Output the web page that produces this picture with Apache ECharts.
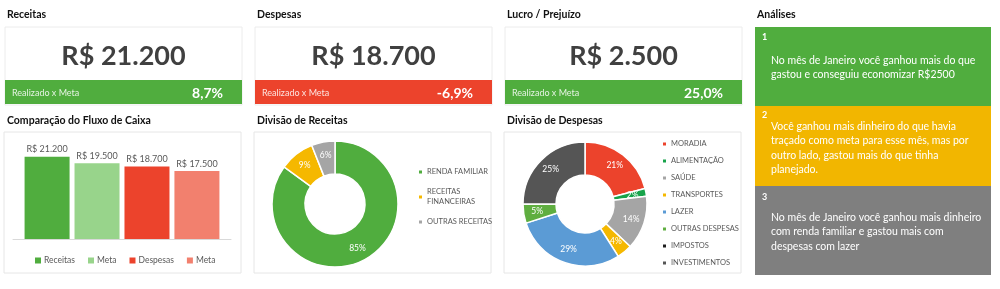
<!DOCTYPE html>
<html><head><meta charset="utf-8">
<script src="https://cdn.jsdelivr.net/npm/echarts@6/dist/echarts.min.js"></script>
<style>html,body{margin:0;padding:0;background:#fff}#c{width:1000px;height:289px}</style>
</head><body><div id="c"></div>
<script>
// ---- data ----
const kpiTitles = ['Receitas', 'Despesas', 'Lucro / Prejuízo'];
const kpiValues = ['R$ 21.200', 'R$ 18.700', 'R$ 2.500'];
const kpiLabel = 'Realizado x Meta';
const kpiPct = ['8,7%', '-6,9%', '25,0%'];
const kpiColors = ['#50ad3e', '#ec432c', '#50ad3e'];

const fluxoTitle = 'Comparação do Fluxo de Caixa';
const fluxoSeries = ['Receitas', 'Meta', 'Despesas', 'Meta'];
const fluxoValues = [21200, 19500, 18700, 17500];
const fluxoColors = ['#50ad3e', '#98d48b', '#ec432c', '#f2806e'];

const receitasTitle = 'Divisão de Receitas';
const receitasCats = ['RENDA FAMILIAR', 'RECEITAS FINANCEIRAS', 'OUTRAS RECEITAS'];
const receitasPct = [85, 9, 6];
const receitasColors = ['#50ad3e', '#f5b800', '#a5a5a5'];

const despesasTitle = 'Divisão de Despesas';
const despesasCats = ['MORADIA', 'ALIMENTAÇÃO', 'SAÚDE', 'TRANSPORTES', 'LAZER', 'OUTRAS DESPESAS', 'IMPOSTOS', 'INVESTIMENTOS'];
const despesasPct = [21, 2, 14, 4, 29, 5, 0, 25];
const despesasColors = ['#ec432c', '#17a34a', '#a5a5a5', '#f5b800', '#5b9bd5', '#5fae40', '#1e1e1e', '#555555'];

const analisesTitle = 'Análises';
const analisesNums = ['1', '2', '3'];
const analisesTexts = [
  'No mês de Janeiro você ganhou mais do que\ngastou e conseguiu economizar R$2500',
  'Você ganhou mais dinheiro do que havia\ntraçado como meta para esse mês, mas por\noutro lado, gastou mais do que tinha\nplanejado.',
  'No mês de Janeiro você ganhou mais dinheiro\ncom renda familiar e gastou mais com\ndespesas com lazer'
];
const analisesColors = ['#50ad3e', '#f2b600', '#7f7f7f'];

// ---- layout ----
const FONT = 'Lato, "Open Sans", "DejaVu Sans", sans-serif';
const colX = [4, 254, 504];
const colW = 237;
const g = [];
const titleStyle = (x, y, t) => ({ type: 'text', x: x, y: y, style: { text: t, fill: '#111', font: 'bold 10.5px ' + FONT, textVerticalAlign: 'middle' } });

for (let i = 0; i < 3; i++) {
  const x = colX[i];
  g.push(titleStyle(x + 3, 15, kpiTitles[i]));
  g.push({ type: 'rect', shape: { x: x + 1, y: 27, width: colW, height: 78 }, style: { fill: '#fff', stroke: '#ececec', lineWidth: 1 } });
  g.push({ type: 'text', x: x + 1 + colW / 2, y: 56, style: { text: kpiValues[i], fill: '#404040', font: 'bold 27px ' + FONT, textAlign: 'center', textVerticalAlign: 'middle' } });
  g.push({ type: 'rect', shape: { x: x + 1, y: 80, width: colW, height: 24 }, style: { fill: kpiColors[i] } });
  g.push({ type: 'text', x: x + 8, y: 93, style: { text: kpiLabel, fill: 'rgba(255,255,255,0.85)', font: '9px ' + FONT, textVerticalAlign: 'middle' } });
  g.push({ type: 'text', x: x + 219, y: 93, style: { text: kpiPct[i], fill: '#fff', font: 'bold 14px ' + FONT, textAlign: 'right', textVerticalAlign: 'middle' } });
  g.push({ type: 'rect', z: -1, shape: { x: x, y: 132, width: colW, height: 141 }, style: { fill: '#fff', stroke: '#e6e6e6', lineWidth: 1 } });
}
g.push(titleStyle(7, 121, fluxoTitle));
g.push(titleStyle(257, 121, receitasTitle));
g.push(titleStyle(507, 121, despesasTitle));

// Analyses column
g.push(titleStyle(757, 15, analisesTitle));
const boxY = [27, 106, 186];
const boxH = [79, 80, 89];
const numY = [37, 115, 197];
const txtY = [60, 126, 217];
for (let i = 0; i < 3; i++) {
  g.push({ type: 'rect', shape: { x: 755, y: boxY[i], width: 236, height: boxH[i] }, style: { fill: analisesColors[i] } });
  g.push({ type: 'text', x: 762, y: numY[i], style: { text: analisesNums[i], fill: '#fff', font: 'bold 9px ' + FONT, textVerticalAlign: 'middle' } });
  g.push({ type: 'text', x: 771, y: txtY[i] - 7, style: { text: analisesTexts[i], fill: '#fff', font: '10.5px ' + FONT, lineHeight: 14.6, textVerticalAlign: 'top' } });
}

const fmtMoney = v => 'R$ ' + String(v).replace(/\B(?=(\d{3})+(?!\d))/g, '.');
const seriesNames = fluxoSeries.map((n, i) => n + '#' + i);

const barSeries = fluxoValues.map((v, i) => ({
  type: 'bar', name: seriesNames[i], data: [v], barWidth: 45, barGap: '11%',
  itemStyle: { color: fluxoColors[i] },
  label: { show: true, position: 'top', distance: 3, formatter: p => fmtMoney(p.value), color: '#595959', fontSize: 9, fontFamily: FONT }
}));

const legText = { fontSize: 7.5, color: '#595959', fontFamily: FONT, lineHeight: 10, padding: [0, 0, 0, -1] };

const chart = echarts.init(document.getElementById('c'), null, { renderer: 'canvas' });
chart.setOption({
  backgroundColor: '#fff',
  animation: false,
  textStyle: { fontFamily: FONT },
  graphic: g,
  grid: { left: 13, width: 218, top: 142, height: 97 },
  xAxis: { type: 'category', data: ['Jan'], axisLabel: { show: false }, axisTick: { show: false }, axisLine: { lineStyle: { color: '#d9d9d9' } } },
  yAxis: { type: 'value', min: 0, max: 25000, show: false, splitLine: { show: false } },
  legend: [
    { data: seriesNames, left: 30, top: 251, itemWidth: 6, itemHeight: 6, itemGap: 13, icon: 'rect',
      formatter: n => n.split('#')[0], textStyle: { fontSize: 8.5, color: '#595959', fontFamily: FONT, padding: [0, 0, 0, -2] } },
    { data: receitasCats, orient: 'vertical', left: 412, top: 162, itemWidth: 5, itemHeight: 5, itemGap: 10, icon: 'rect',
      formatter: n => n === 'RECEITAS FINANCEIRAS' ? 'RECEITAS\nFINANCEIRAS' : n,
      textStyle: legText },
    { data: despesasCats, orient: 'vertical', left: 656, top: 134, itemWidth: 5, itemHeight: 5, itemGap: 7, icon: 'rect',
      textStyle: legText }
  ],
  series: barSeries.concat([
    { type: 'pie', name: 'Receitas', center: [335, 204], radius: [30, 63], startAngle: 90, clockwise: true,
      itemStyle: { borderColor: '#fff', borderWidth: 1.5 },
      label: { show: true, position: 'inside', formatter: p => p.value + '%', color: '#fff', fontSize: 8.5, fontFamily: FONT },
      labelLine: { show: false }, emphasis: { disabled: true },
      data: receitasCats.map((n, i) => ({ name: n, value: receitasPct[i], itemStyle: { color: receitasColors[i] } })) },
    { type: 'pie', name: 'Despesas', center: [585, 204], radius: [29, 62], startAngle: 90, clockwise: true,
      stillShowZeroSum: true, minShowLabelAngle: 0,
      itemStyle: { borderColor: '#fff', borderWidth: 1.5 },
      label: { show: true, position: 'inside', formatter: p => p.value + '%', color: '#fff', fontSize: 8.5, fontFamily: FONT },
      labelLine: { show: false }, emphasis: { disabled: true },
      data: despesasCats.map((n, i) => ({ name: n, value: despesasPct[i], itemStyle: { color: despesasColors[i] } })) }
  ])
});
</script></body></html>
